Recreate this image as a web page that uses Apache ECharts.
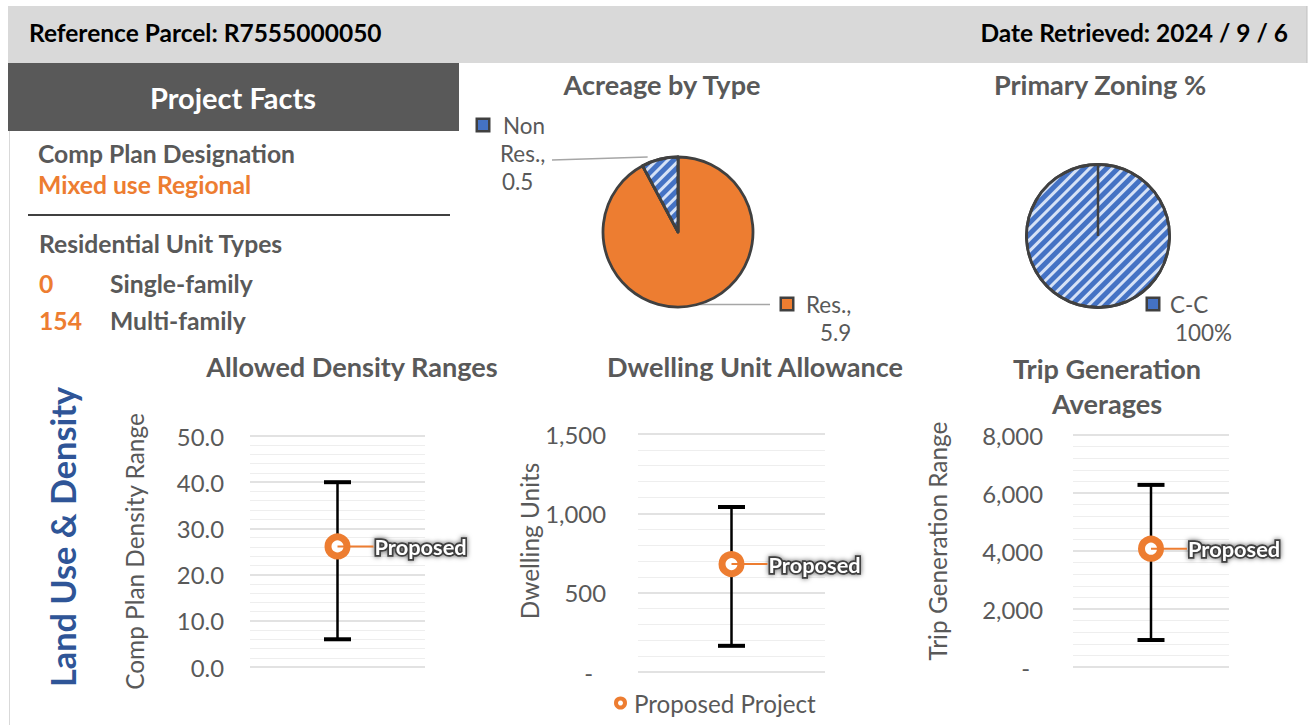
<!DOCTYPE html>
<html>
<head>
<meta charset="utf-8">
<script src="https://cdn.jsdelivr.net/npm/echarts@6/dist/echarts.min.js"></script>
<style>
html,body{margin:0;padding:0;background:#fff;}
#c{width:1311px;height:725px;}
</style>
</head>
<body>
<div id="c"></div>
<script>
// ---------------- DATA ----------------
const referenceParcel = 'R7555000050';
const dateRetrieved = '2024 / 9 / 6';
const compPlanDesignation = 'Mixed use Regional';
const unitTypeNames = ['Single-family', 'Multi-family'];
const unitTypeCounts = [0, 154];

const acreageNames = ['Res.', 'Non Res.'];
const acreageValues = [5.9, 0.5];
const zoningNames = ['C-C'];
const zoningValues = [100];

const chartTitles = ['Allowed Density Ranges', 'Dwelling Unit Allowance', 'Trip Generation\nAverages'];
const axisNames = ['Comp Plan Density Range', 'Dwelling Units', 'Trip Generation Range'];
const axisMax = [50, 1500, 8000];
const axisInterval = [10, 500, 2000];
const rangeLow = [6, 165, 930];
const rangeHigh = [40, 1040, 6280];
const proposedValues = [26.1, 680, 4080];
const proposedLabel = 'Proposed';
const legendName = 'Proposed Project';

// ---------------- STYLE HELPERS ----------------
const FAM = 'Lato, "Open Sans", sans-serif';
const mctx = document.createElement('canvas').getContext('2d');
function fit(text, w, weight) {
  mctx.font = (weight || 'normal') + ' 100px ' + FAM;
  return Math.round(1000 * w / mctx.measureText(text).width) / 10;
}
const GREY = '#595959', ORANGE = '#ED7D31', BLUE = '#4472C4';

const fsHeader = (fit('Reference Parcel: ' + referenceParcel, 353, 'bold') + fit('Date Retrieved: ' + dateRetrieved, 308, 'bold')) / 2;
const fsFactsTitle = fit('Project Facts', 166, 'bold');
const fsFacts = (fit('Comp Plan Designation', 253, 'bold') + fit('Residential Unit Types', 246, 'bold') + fit('Mixed use Regional', 215, 'bold')) / 3;
const fsBig = fit('Land Use & Density', 300, 'bold');
const fsTitle = (fit('Allowed Density Ranges', 291, 'bold') + fit('Acreage by Type', 199, 'bold') + fit('Dwelling Unit Allowance', 297, 'bold')) / 3;
const fsAxisName = (fit('Comp Plan Density Range', 274) + fit('Trip Generation Range', 242)) / 2;
const fsTick = (fit('8,000', 60) + fit('1,500', 63) + fit('50.0', 46)) / 3;
const fsLegend = fit('Proposed Project', 182);
const fsPieLbl = (fit('Res.,', 47) + fit('100%', 55)) / 2;
const fsProp = fit('Proposed', 92, 'bold');

function txt(x, y, text, size, color, align, weight, extra) {
  const o = {
    type: 'text', x: x, y: y, silent: true,
    style: {
      text: text, fill: color, font: (weight || 'bold') + ' ' + size + 'px ' + FAM,
      align: align || 'left', verticalAlign: 'middle',
      textAlign: align || 'left', textVerticalAlign: 'middle'
    }
  };
  return Object.assign(o, extra || {});
}

// ---------------- LAYOUT ----------------
const grids = [
  { left: 250, top: 436, width: 175, height: 231 },
  { left: 638, top: 434, width: 187, height: 238 },
  { left: 1073, top: 435, width: 156, height: 232 }
];
const nameGaps = [104, 95, 124];
const namePads = [0, 24, 20];
const labelMargins = [26, 32, 30];
const titlePos = [[352, 366], [755, 366], [1107, 368]];
const PIE1 = { c: [678, 232], r: 75 };
const PIE2 = { c: [1098, 236], r: 71.5 };
function rimPoint(pie, degFromTop, extra) {
  const a = degFromTop * Math.PI / 180, r = pie.r + (extra || 0);
  return [pie.c[0] + r * Math.sin(a), pie.c[1] - r * Math.cos(a)];
}

const stripe = {
  symbol: 'rect', symbolSize: 1, color: 'rgba(222,232,248,0.95)',
  dashArrayX: [1, 0], dashArrayY: [3, 4.5], rotation: -Math.PI / 4
};

const graphics = [
  { type: 'rect', shape: { x: 8, y: 6, width: 1299, height: 57 }, style: { fill: '#D9D9D9' }, silent: true },
  { type: 'line', shape: { x1: 1307, y1: 6, x2: 1307, y2: 63 }, style: { stroke: '#BFBFBF', lineWidth: 1 }, silent: true },
  { type: 'rect', shape: { x: 8, y: 63, width: 451, height: 68 }, style: { fill: '#595959' }, silent: true },
  { type: 'line', shape: { x1: 9.5, y1: 131, x2: 9.5, y2: 725 }, style: { stroke: '#D9D9D9', lineWidth: 1 }, silent: true },
  { type: 'line', shape: { x1: 28, y1: 215, x2: 450, y2: 215 }, style: { stroke: '#000', lineWidth: 1.3 }, silent: true },
  txt(29, 32, 'Reference Parcel: ' + referenceParcel, fsHeader, '#000', 'left'),
  txt(1288, 32, 'Date Retrieved: ' + dateRetrieved, fsHeader, '#000', 'right'),
  txt(233, 97, 'Project Facts', fsFactsTitle, '#fff', 'center'),
  txt(38, 153, 'Comp Plan Designation', fsFacts, GREY, 'left'),
  txt(38, 184, compPlanDesignation, fsFacts, ORANGE, 'left'),
  txt(39, 243, 'Residential Unit Types', fsFacts, GREY, 'left'),
  txt(39, 283, String(unitTypeCounts[0]), fsFacts, ORANGE, 'left'),
  txt(110, 283, unitTypeNames[0], fsFacts, GREY, 'left'),
  txt(39, 320, String(unitTypeCounts[1]), fsFacts, ORANGE, 'left'),
  txt(110, 320, unitTypeNames[1], fsFacts, GREY, 'left'),
  txt(62, 537, 'Land Use & Density', fsBig, '#2F5597', 'center', 'bold', { rotation: Math.PI / 2 }),
  txt(662, 84, 'Acreage by Type', fsTitle, GREY, 'center'),
  txt(1100, 84, 'Primary Zoning %', fsTitle, GREY, 'center'),
  // radial edge of the single 100% slice
  { type: 'line', z: 100, shape: { x1: PIE2.c[0], y1: PIE2.c[1], x2: PIE2.c[0], y2: PIE2.c[1] - PIE2.r }, style: { stroke: '#404040', lineWidth: 2.5 }, silent: true }
];
chartTitles.forEach((t, i) => {
  const lines = t.split('\n');
  lines.forEach((ln, j) => graphics.push(txt(titlePos[i][0], titlePos[i][1] + j * 35, ln, fsTitle, GREY, 'center')));
});

// ---------------- AXES / SERIES ----------------
const xAxes = grids.map((g, i) => ({
  type: 'category', gridIndex: i, data: [''], show: false, boundaryGap: true
}));
const yAxes = grids.map((g, i) => ({
  type: 'value', gridIndex: i, min: 0, max: axisMax[i], interval: axisInterval[i],
  name: axisNames[i], nameLocation: 'middle', nameGap: nameGaps[i],
  nameTextStyle: { color: GREY, fontFamily: FAM, fontSize: fsAxisName, padding: [0, 0, 0, namePads[i]] },
  axisLine: { show: false }, axisTick: { show: false },
  axisLabel: {
    color: GREY, fontFamily: FAM, fontSize: fsTick, margin: labelMargins[i],
    formatter: i === 0 ? (v => v.toFixed(1)) : (v => v === 0 ? '{d|-}' : v.toLocaleString('en-US')),
    rich: { d: { color: GREY, fontFamily: FAM, fontSize: fsTick, padding: [0, 13, 0, 0] } }
  },
  splitLine: { show: true, lineStyle: { color: '#D9D9D9', width: 1.6 } },
  minorTick: { show: false, splitNumber: 5 },
  minorSplitLine: { show: true, lineStyle: { color: '#EEEEEE', width: 1.2 } }
}));

const series = [];
grids.forEach((g, i) => {
  series.push({
    type: 'custom', xAxisIndex: i, yAxisIndex: i, z: 2, silent: true,
    data: [[0, rangeLow[i], rangeHigh[i]]],
    renderItem: function (params, api) {
      const lo = api.coord([api.value(0), api.value(1)]);
      const hi = api.coord([api.value(0), api.value(2)]);
      const hw = 13.5;
      return {
        type: 'group', children: [
          { type: 'line', shape: { x1: lo[0], y1: lo[1], x2: hi[0], y2: hi[1] }, style: { stroke: '#000', lineWidth: 2.5 } },
          { type: 'line', shape: { x1: hi[0] - hw, y1: hi[1], x2: hi[0] + hw, y2: hi[1] }, style: { stroke: '#000', lineWidth: 4 } },
          { type: 'line', shape: { x1: lo[0] - hw, y1: lo[1], x2: lo[0] + hw, y2: lo[1] }, style: { stroke: '#000', lineWidth: 4 } }
        ]
      };
    }
  });
  series.push({
    type: 'scatter', name: legendName, xAxisIndex: i, yAxisIndex: i, z: 3,
    data: [[0, proposedValues[i]]],
    symbol: 'circle', symbolSize: 19,
    itemStyle: { color: '#fff', borderColor: ORANGE, borderWidth: 7, opacity: 1 },
    label: {
      show: true, position: 'right', distance: 24, formatter: proposedLabel,
      color: '#fff', fontFamily: FAM, fontWeight: 'bold', fontSize: fsProp,
      textBorderColor: '#3F3F3F', textBorderWidth: 3.5,
      textShadowColor: 'rgba(0,0,0,0.6)', textShadowBlur: 5
    },
    emphasis: { disabled: true }
  });
  series.push({
    type: 'custom', xAxisIndex: i, yAxisIndex: i, z: 4, silent: true,
    data: [[0, proposedValues[i]]],
    renderItem: function (params, api) {
      const p = api.coord([api.value(0), api.value(1)]);
      return { type: 'line', shape: { x1: p[0], y1: p[1], x2: p[0] + 36, y2: p[1] }, style: { stroke: ORANGE, lineWidth: 2 } };
    }
  });
});

const pieRich = {
  k: { width: 10, height: 10, backgroundColor: BLUE, borderColor: '#404040', borderWidth: 2.5 },
  ko: { width: 10, height: 10, backgroundColor: ORANGE, borderColor: '#404040', borderWidth: 2.5 },
  t: { color: GREY, fontFamily: FAM, fontSize: fsPieLbl, lineHeight: 29 }
};
function padStyle(p) { return { color: GREY, fontFamily: FAM, fontSize: fsPieLbl, lineHeight: 28, padding: [0, 0, 0, p] }; }
pieRich.p22 = padStyle(22); pieRich.p24 = padStyle(24); pieRich.p38 = padStyle(38); pieRich.p27 = padStyle(27);
pieRich.g15 = padStyle(15); pieRich.g14 = padStyle(14); pieRich.g12 = padStyle(12);

series.push({
  type: 'pie', center: PIE1.c, radius: PIE1.r, startAngle: 90, clockwise: true, z: 5,
  silent: true, animation: false,
  data: acreageNames.map((n, j) => ({
    name: n, value: acreageValues[j],
    itemStyle: j === 0 ? { color: ORANGE } : { color: BLUE, decal: stripe }
  })),
  itemStyle: { borderColor: '#404040', borderWidth: 2.8 },
  label: {
    show: true, position: 'outside', rich: pieRich,
    formatter: function (p) {
      if (p.dataIndex === 0) return '{ko|}{g14|' + p.name + ',}\n{p38|' + p.value + '}';
      const parts = p.name.split(' ');
      return '{k|}{g15|' + parts[0] + '}\n{p22|' + parts[1] + ',}\n{p24|' + p.value + '}';
    }
  },
  labelLine: { show: true, length: 10, length2: 10, lineStyle: { color: '#A6A6A6', width: 1.5 } },
  labelLayout: function (params) {
    if (params.dataIndex === 0) {
      const s = rimPoint(PIE1, 165);
      return { x: 782, y: 290, align: 'left', verticalAlign: 'top',
        labelLinePoints: [s, [s[0] + 36, s[1]], [770, s[1]]] };
    }
    const s = rimPoint(PIE1, 338, 6);
    return { x: 478, y: 111, align: 'left', verticalAlign: 'top',
      labelLinePoints: [s, [600, 158.5], [552, 160]] };
  }
});
series.push({
  type: 'pie', center: PIE2.c, radius: PIE2.r, startAngle: 90, clockwise: true, z: 5,
  silent: true, animation: false,
  data: zoningNames.map((n, j) => ({ name: n, value: zoningValues[j], itemStyle: { color: BLUE, decal: stripe } })),
  itemStyle: { borderColor: '#404040', borderWidth: 2.8 },
  label: {
    show: true, position: 'outside', rich: pieRich,
    formatter: p => '{k|}{g12|' + p.name + '}\n{p27|' + Math.round(p.percent) + '%}'
  },
  labelLine: { show: false },
  labelLayout: () => ({ x: 1148, y: 290, align: 'left', verticalAlign: 'top' })
});

const option = {
  animation: false,
  textStyle: { fontFamily: FAM },
  grid: grids,
  xAxis: xAxes,
  yAxis: yAxes,
  legend: {
    data: [legendName], left: 609, top: 686, icon: 'circle',
    itemWidth: 9, itemHeight: 9, selectedMode: false,
    itemStyle: { color: '#fff', borderColor: ORANGE, borderWidth: 4 },
    textStyle: { color: GREY, fontFamily: FAM, fontSize: fsLegend, padding: [0, 0, 0, 4] }
  },
  graphic: { elements: graphics },
  series: series
};

const chart = echarts.init(document.getElementById('c'), null, { renderer: 'svg', width: 1311, height: 725 });
chart.setOption(option);
</script>
</body>
</html>
